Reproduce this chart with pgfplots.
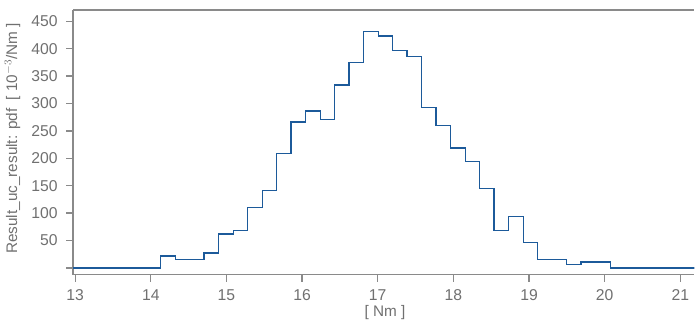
\documentclass[border=0pt]{standalone}
\usepackage{fontspec}
\setmainfont{Liberation Sans}
\usepackage{pgfplots}
\pgfplotsset{compat=1.18}
\definecolor{txtgray}{HTML}{707070}
\definecolor{axgray}{HTML}{8A8A8A}
\definecolor{lineblue}{HTML}{1C5A9A}
\begin{document}
\begin{tikzpicture}[x=1pt,y=1pt]
\begin{axis}[
  scale only axis,
  width=466.5pt, height=198.75pt,
  xmin=12.974, xmax=21.185,
  ymin=-12.2, ymax=470.6,
  axis lines=left,
  axis line style={-, draw=axgray, line width=1.1pt},
  tick align=outside,
  major tick length=5.25pt,
  tick style={draw=axgray, line width=1pt},
  xtick={13,14,...,21},
  ytick={0,50,...,450},
  yticklabels={,50,100,150,200,250,300,350,400,450},
  /pgf/number format/assume math mode=true,
  ticklabel style={font=\fontsize{11.8}{13}\selectfont, text=txtgray},
  xticklabel style={yshift=-2.5pt},
  yticklabel style={xshift=-3pt},
  xlabel={[ Nm ]},
  ylabel={Result\_uc\_result: pdf\ \ [ 10$^{-3}$/Nm ]},
  xlabel style={at={(rel axis cs:0.502,-0.143)}, anchor=center, font=\fontsize{11.5}{13}\selectfont, text=txtgray},
  ylabel style={at={(rel axis cs:-0.098,0.515)}, anchor=center, rotate=0, font=\fontsize{11.5}{13}\selectfont, text=txtgray},
  clip=true,
]
\addplot[const plot, draw=lineblue, line width=1.1pt] coordinates {
(12.9,0) (14.131,22) (14.323,15.5) (14.514,15.5) (14.706,27) (14.898,62)
(15.090,68.5) (15.281,110.5) (15.473,141.5) (15.665,209) (15.856,266)
(16.048,286) (16.240,271) (16.431,334) (16.623,375) (16.815,431)
(17.007,423) (17.198,396.5) (17.390,385.6) (17.582,293) (17.773,260)
(17.965,219) (18.157,194.5) (18.348,145) (18.540,68) (18.732,94)
(18.924,46.7) (19.115,15.7) (19.307,15.7) (19.499,6.6) (19.690,11)
(19.882,11) (20.074,0) (21.3,0)
};
\draw[axgray, line width=1.1pt] (rel axis cs:0,1) -- (rel axis cs:1,1);
\coordinate (sw) at (rel axis cs:0,0);
\coordinate (ne) at (rel axis cs:1,1);
\end{axis}
\path ([shift={(-54.75pt,-37.5pt)}]sw) rectangle ([shift={(0pt,7.5pt)}]ne);
\end{tikzpicture}
\end{document}
